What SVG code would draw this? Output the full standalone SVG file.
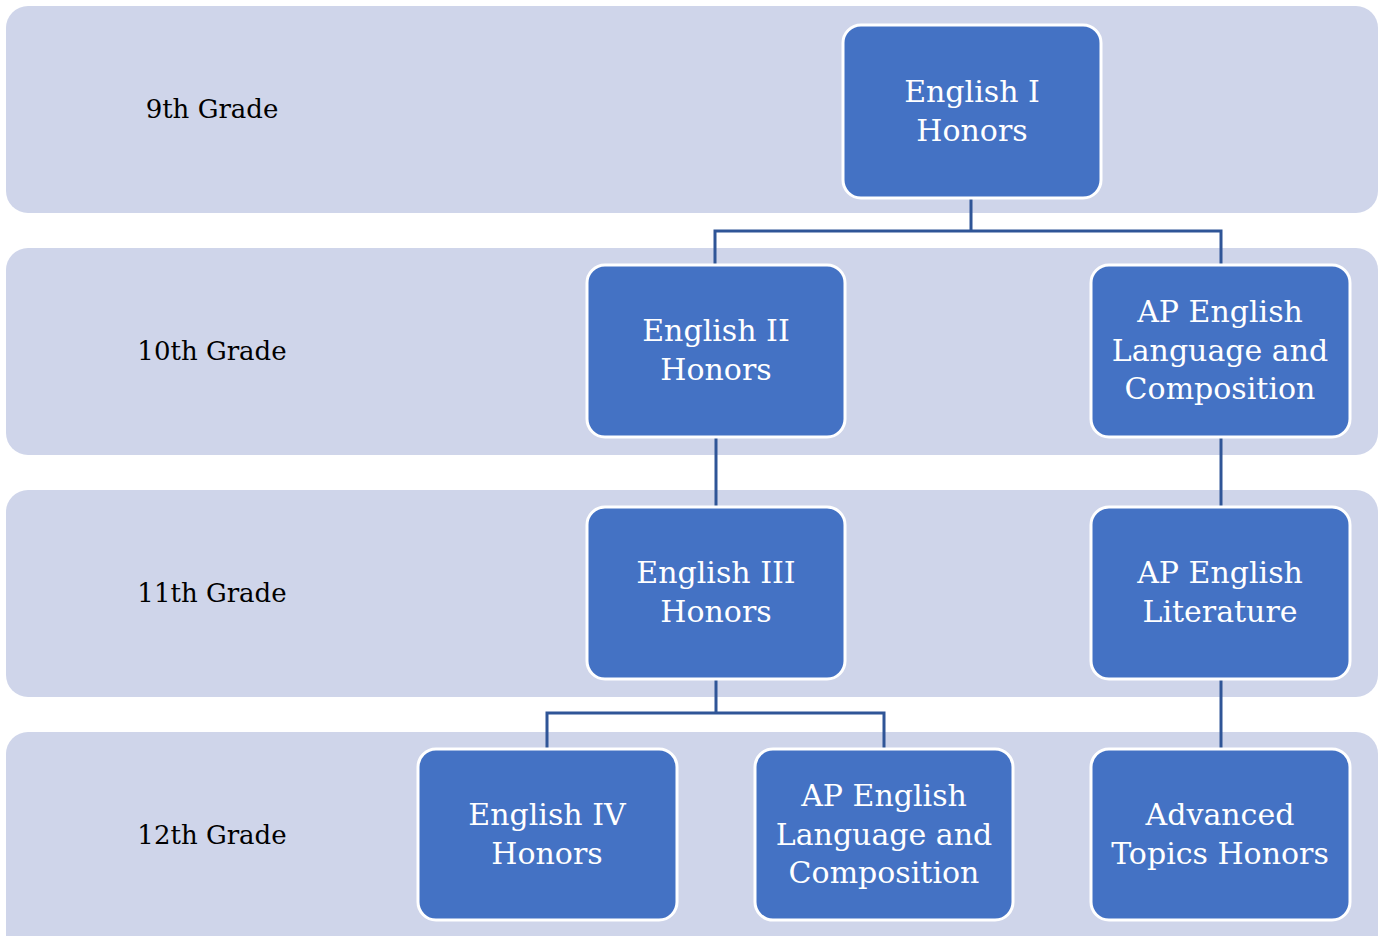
<svg xmlns="http://www.w3.org/2000/svg" width="1383" height="936" viewBox="0 0 1383 936">
<style>
.band{fill:#CFD5EA}
.box{fill:#4472C4;stroke:#FFFFFF;stroke-width:3}
.lbl{font-family:"DejaVu Serif","Liberation Serif",serif;font-size:26px;fill:#000000;text-anchor:middle}
.t{font-family:"DejaVu Serif","Liberation Serif",serif;font-size:30px;fill:#FFFFFF;text-anchor:middle}
.c{fill:none;stroke:#2F5597;stroke-width:3}
</style>
<rect width="1383" height="936" fill="#FFFFFF"/>
<g id="bands">
<rect class="band" x="6" y="6" width="1372" height="207" rx="22"/>
<rect class="band" x="6" y="248" width="1372" height="207" rx="22"/>
<rect class="band" x="6" y="490" width="1372" height="207" rx="22"/>
<rect class="band" x="6" y="732" width="1372" height="230" rx="22"/>
</g>
<g id="labels">
<text class="lbl" x="212" y="118">9th Grade</text>
<text class="lbl" x="212" y="360">10th Grade</text>
<text class="lbl" x="212" y="602">11th Grade</text>
<text class="lbl" x="212" y="844">12th Grade</text>
</g>
<g id="connectors">
<path class="c" d="M971 198 V231 M715 265 V231 H1221 V265"/>
<path class="c" d="M716 437 V507"/>
<path class="c" d="M1221 437 V507"/>
<path class="c" d="M716 679 V713 M547 749 V713 H884 V749"/>
<path class="c" d="M1221 679 V749"/>
</g>
<g id="n1"><rect class="box" x="843" y="25" width="258" height="173" rx="18"/>
<text class="t" x="972" y="102">English I</text><text class="t" x="972" y="141">Honors</text></g>
<g id="n2"><rect class="box" x="587" y="265" width="258" height="172" rx="18"/>
<text class="t" x="716" y="341">English II</text><text class="t" x="716" y="380">Honors</text></g>
<g id="n3"><rect class="box" x="1091" y="265" width="259" height="172" rx="18"/>
<text class="t" x="1220" y="322">AP English</text><text class="t" x="1220" y="361">Language and</text><text class="t" x="1220" y="399">Composition</text></g>
<g id="n4"><rect class="box" x="587" y="507" width="258" height="172" rx="18"/>
<text class="t" x="716" y="583">English III</text><text class="t" x="716" y="622">Honors</text></g>
<g id="n5"><rect class="box" x="1091" y="507" width="259" height="172" rx="18"/>
<text class="t" x="1220" y="583">AP English</text><text class="t" x="1220" y="622">Literature</text></g>
<g id="n6"><rect class="box" x="418" y="749" width="259" height="171" rx="18"/>
<text class="t" x="547" y="825">English IV</text><text class="t" x="547" y="864">Honors</text></g>
<g id="n7"><rect class="box" x="755" y="749" width="258" height="171" rx="18"/>
<text class="t" x="884" y="806">AP English</text><text class="t" x="884" y="845">Language and</text><text class="t" x="884" y="883">Composition</text></g>
<g id="n8"><rect class="box" x="1091" y="749" width="259" height="171" rx="18"/>
<text class="t" x="1220" y="825">Advanced</text><text class="t" x="1220" y="864">Topics Honors</text></g>
</svg>
